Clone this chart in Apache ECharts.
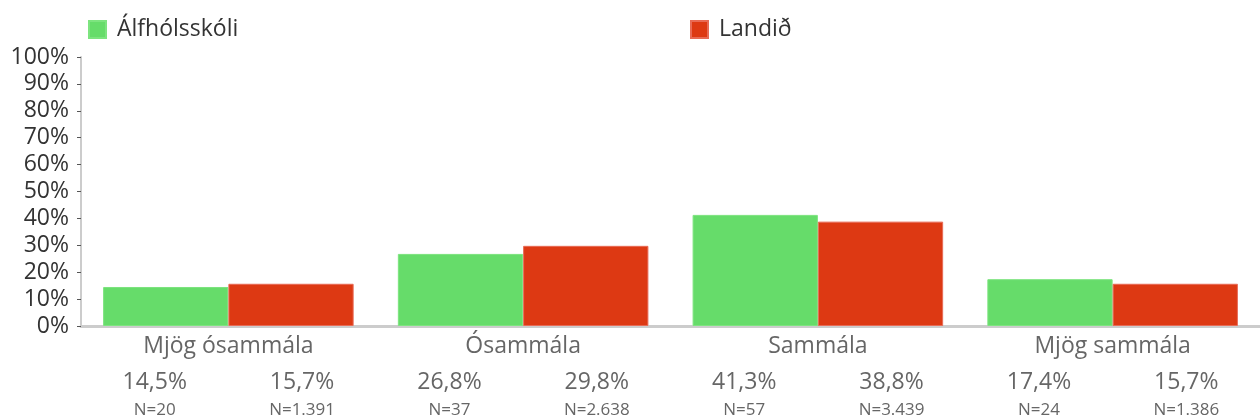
<!DOCTYPE html>
<html>
<head>
<meta charset="utf-8">
<script src="https://cdn.jsdelivr.net/npm/echarts@6/dist/echarts.min.js"></script>
<style>html,body{margin:0;padding:0;background:#fff}#c{width:1260px;height:420px}</style>
</head>
<body>
<div id="c"></div>
<script>
const categories = ['Mjög ósammála', 'Ósammála', 'Sammála', 'Mjög sammála'];
const seriesNames = ['Álfhólsskóli', 'Landið'];
const schoolValues = [14.5, 26.8, 41.3, 17.4];
const nationalValues = [15.7, 29.8, 38.8, 15.7];
const schoolN = ['20', '37', '57', '24'];
const nationalN = ['1.391', '2.638', '3.439', '1.386'];

const fontFamily = '"Open Sans", sans-serif';
const fmt = v => v.toFixed(1).replace('.', ',') + '%';

const subLabels = [];
const subTexts = [];
categories.forEach((c, i) => {
  subLabels.push(c + '-s'); subTexts.push({v: schoolValues[i], n: schoolN[i]});
  subLabels.push(c + '-n'); subTexts.push({v: nationalValues[i], n: nationalN[i]});
});

const legendBase = {top: 18, padding: 0, icon: 'rect', itemWidth: 17, itemHeight: 17, itemGap: 10,
  textStyle: {fontSize: 23, color: '#333', fontFamily, padding: [0, 0, 0, 6]}};

const chart = echarts.init(document.getElementById('c'), null, {renderer: 'canvas'});
chart.setOption({
  animation: false,
  textStyle: {fontFamily},
  legend: [
    Object.assign({left: 88, data: [seriesNames[0]]}, legendBase),
    Object.assign({left: 690, data: [seriesNames[1]]}, legendBase)
  ],
  grid: {left: 81, right: 0, top: 57, bottom: 94, containLabel: false},
  xAxis: [
    {type: 'category', data: categories, position: 'bottom',
     axisLine: {show: true, lineStyle: {color: '#cccccc', width: 3}},
     axisTick: {show: false},
     axisLabel: {fontSize: 23, color: '#666', margin: 9, fontFamily}},
    {type: 'category', data: subLabels, position: 'bottom', gridIndex: 0,
     axisLine: {show: false}, axisTick: {show: false}, splitLine: {show: false},
     axisLabel: {margin: 42, interval: 0, fontFamily,
       formatter: (val, idx) => '{p|' + fmt(subTexts[idx].v) + '}\n{n|N=' + subTexts[idx].n + '}',
       rich: {p: {fontSize: 23, color: '#666', lineHeight: 28, fontFamily},
              n: {fontSize: 17, color: '#666', lineHeight: 28, fontFamily}}}}
  ],
  yAxis: {type: 'value', min: 0, max: 100, interval: 10,
    axisLine: {show: true, lineStyle: {color: '#cccccc', width: 2}},
    axisTick: {show: true, length: 4, lineStyle: {color: '#555'}},
    splitLine: {show: false},
    axisLabel: {formatter: '{value}%', fontSize: 23, color: '#333', margin: 12, fontFamily}},
  series: [
    {name: seriesNames[0], type: 'bar', xAxisIndex: 0, data: schoolValues, barGap: '0%', barCategoryGap: '15%',
     itemStyle: {color: '#66dc6a', borderColor: '#7de47f', borderWidth: 1}},
    {name: seriesNames[1], type: 'bar', xAxisIndex: 0, data: nationalValues, barGap: '0%', barCategoryGap: '15%',
     itemStyle: {color: '#dd3913', borderColor: '#e86a55', borderWidth: 1}}
  ]
});
</script>
</body>
</html>
